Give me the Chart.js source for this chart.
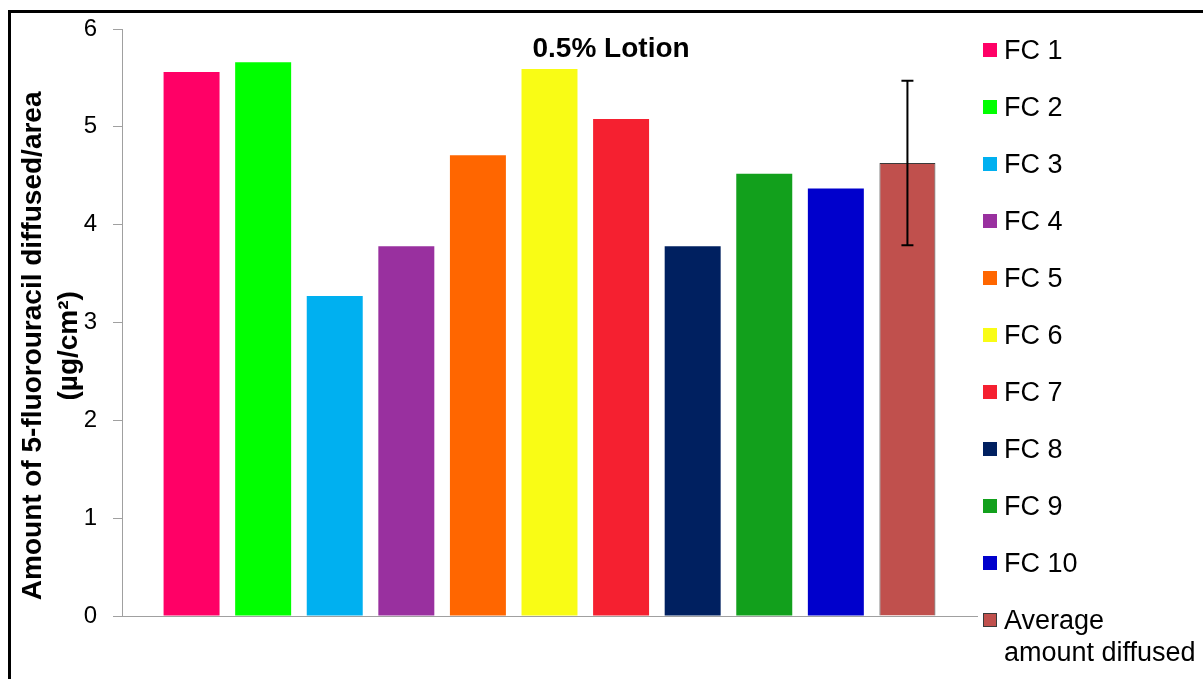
<!DOCTYPE html>
<html>
<head>
<meta charset="utf-8">
<title>0.5% Lotion</title>
<script src="https://cdn.jsdelivr.net/npm/chart.js@4.4.1/dist/chart.umd.min.js"></script>
<style>
    html, body {
        margin: 0;
        padding: 0;
        background: #fff;
        overflow: hidden;
        width: 1203px;
        height: 679px;
    }
    #frame {
        position: absolute;
        left: 8px;
        top: 10px;
        width: 1400px;
        height: 900px;
        border: 3px solid #000;
        box-sizing: border-box;
    }
    #chart {
        position: absolute;
        left: 0;
        top: 0;
    }
    #legend {
        position: absolute;
        left: 983px;
        top: 21px;
        font-family: "Liberation Sans", Arial, sans-serif;
        font-size: 27px;
        color: #000;
    }
    #legend ul {
        list-style: none;
        margin: 0;
        padding: 0;
    }
    #legend li {
        position: relative;
        height: 57px;
        line-height: 32px;
        padding-left: 21px;
        padding-top: 13px;
        box-sizing: border-box;
        white-space: pre;
    }
    #legend li span {
        position: absolute;
        left: 0;
        top: 22px;
        width: 14px;
        height: 14px;
        box-sizing: border-box;
    }
</style>
</head>
<body>

<div id="frame"></div>
<canvas id="chart" width="1203" height="679"></canvas>
<div id="legend"></div>

<script>
/* ============================================
   DATA
============================================ */

const chartTitle = "0.5% Lotion";
const categories = [""];

const seriesNames = [
    "FC 1", "FC 2", "FC 3", "FC 4", "FC 5",
    "FC 6", "FC 7", "FC 8", "FC 9", "FC 10",
    "Average\namount diffused"
];

const seriesValues = [5.56, 5.66, 3.27, 3.78, 4.71, 5.59, 5.08, 3.78, 4.52, 4.37, 4.63];

// only the average bar carries an error bar (SD)
const seriesErrors = [null, null, null, null, null, null, null, null, null, null, 0.84];

const seriesColors = [
    "#FF0066", "#00FF00", "#00B0F0", "#99309F", "#FF6600",
    "#F9FC15", "#F52030", "#002060", "#12A01C", "#0000CC",
    "#C0504D"
];

const yTickMin = 0;
const yTickMax = 6;
const yTickStep = 1;

// trailing spaces push the rotated title down a little, like the original
const yAxisTitle = [
    "Amount of 5-fluorouracil diffused/area\u00a0\u00a0\u00a0\u00a0\u00a0\u00a0",
    "(\u00b5g/cm\u00b2)\u00a0\u00a0\u00a0\u00a0\u00a0\u00a0"
];

const fontFamily = "'Liberation Sans', Arial, sans-serif";

/* ============================================
   PLUGINS
============================================ */

// error bar on top of bars that have an error value
const errorBarPlugin = {
    id: "errorBars",
    afterDatasetsDraw(chart) {
        const ctx = chart.ctx;
        const yScale = chart.scales.y;

        chart.data.datasets.forEach((ds, i) => {
            const err = seriesErrors[i];
            if (err == null) return;

            const bar = chart.getDatasetMeta(i).data[0];
            const value = ds.data[0];
            const yTop = yScale.getPixelForValue(value + err);
            const yBottom = yScale.getPixelForValue(value - err);
            const half = 6;

            ctx.save();
            ctx.strokeStyle = "#000";
            ctx.lineWidth = 2;
            ctx.beginPath();
            ctx.moveTo(bar.x, yTop);
            ctx.lineTo(bar.x, yBottom);
            ctx.moveTo(bar.x - half, yTop);
            ctx.lineTo(bar.x + half, yTop);
            ctx.moveTo(bar.x - half, yBottom);
            ctx.lineTo(bar.x + half, yBottom);
            ctx.stroke();
            ctx.restore();
        });
    }
};

// chart title drawn inside the plot area
const innerTitlePlugin = {
    id: "innerTitle",
    afterDraw(chart) {
        const {ctx, chartArea} = chart;
        ctx.save();
        ctx.font = "bold 28px " + fontFamily;
        ctx.fillStyle = "#000";
        ctx.textAlign = "center";
        ctx.textBaseline = "middle";
        const x = chartArea.left + (chartArea.right - chartArea.left) * 0.572;
        ctx.fillText(chartTitle, x, chartArea.top + 20);
        ctx.restore();
    }
};

// html legend next to the plot
const htmlLegendPlugin = {
    id: "htmlLegend",
    afterUpdate(chart) {
        const box = document.getElementById("legend");
        box.innerHTML = "";
        const ul = document.createElement("ul");

        chart.data.datasets.forEach(ds => {
            const li = document.createElement("li");
            const swatch = document.createElement("span");
            swatch.style.background = ds.backgroundColor;
            if (ds.borderWidth) {
                swatch.style.border = "1px solid " + ds.borderColor;
            }
            li.appendChild(swatch);
            li.appendChild(document.createTextNode(ds.label));
            ul.appendChild(li);
        });

        box.appendChild(ul);
    }
};

/* ============================================
   CHART
============================================ */

const datasets = seriesNames.map((name, i) => ({
    label: name,
    data: [seriesValues[i]],
    backgroundColor: seriesColors[i],
    borderColor: i === seriesNames.length - 1 ? "#3A3A3A" : seriesColors[i],
    borderWidth: i === seriesNames.length - 1 ? 1 : 0,
    categoryPercentage: 0.921,
    barPercentage: 0.782
}));

const ctx = document.getElementById("chart").getContext("2d");

new Chart(ctx, {
    type: "bar",
    data: {
        labels: categories,
        datasets: datasets
    },
    options: {
        responsive: false,
        animation: false,
        layout: {
            padding: { left: 15, top: 29, right: 226, bottom: 63 }
        },
        plugins: {
            legend: { display: false },
            tooltip: { enabled: false },
            title: { display: false }
        },
        scales: {
            x: {
                grid: { display: false },
                border: { display: true, color: "#A0A0A0", width: 1 },
                ticks: { display: false },
                afterFit(scale) {
                    scale.height = 0;
                    scale.paddingLeft = 0;
                    scale.paddingRight = 0;
                }
            },
            y: {
                min: yTickMin,
                max: yTickMax,
                ticks: {
                    stepSize: yTickStep,
                    padding: 16,
                    color: "#000",
                    font: { family: fontFamily, size: 24 }
                },
                grid: {
                    drawOnChartArea: false,
                    drawTicks: true,
                    tickLength: 9,
                    color: "#A0A0A0"
                },
                border: { display: true, color: "#A0A0A0", width: 1 },
                title: {
                    display: true,
                    text: yAxisTitle,
                    color: "#000",
                    padding: { top: 0, bottom: 0 },
                    font: { family: fontFamily, size: 28, weight: "bold", lineHeight: 1.3 }
                },
                afterFit(scale) {
                    scale.width = 107;
                    scale.paddingTop = 0;
                    scale.paddingBottom = 0;
                }
            }
        }
    },
    plugins: [errorBarPlugin, innerTitlePlugin, htmlLegendPlugin]
});
</script>
</body>
</html>
